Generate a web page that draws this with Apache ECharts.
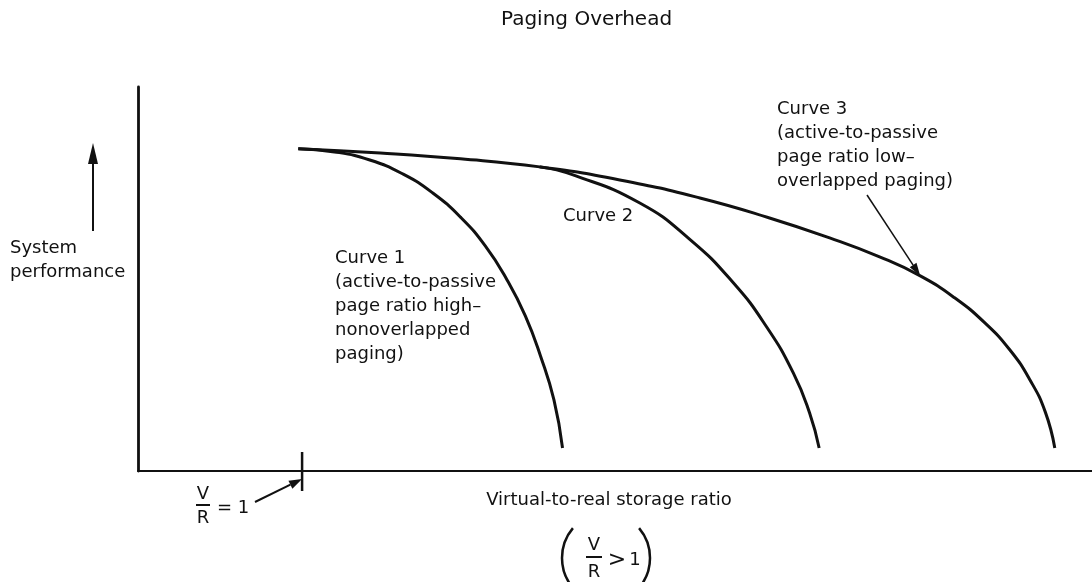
<!DOCTYPE html>
<html>
<head>
<meta charset="utf-8">
<script src="https://cdn.jsdelivr.net/npm/echarts@6/dist/echarts.min.js"></script>
<style>
  html, body { margin: 0; padding: 0; background: #fff; }
  #chart { width: 1092px; height: 582px; }
</style>
</head>
<body>
<div id="chart"></div>
<script>
// values (arbitrary units, axes 0..100, no tick labels)
var ratio1 = [16.8, 20.6, 24.3, 27.8, 30.9, 33.8, 36.4, 38.7, 40.6, 42.2, 43.6, 44.5];
var perf1  = [83.9, 83.1, 81.0, 77.3, 72.4, 66.1, 58.6, 49.7, 40.4, 29.9, 18.5, 6.0];

var ratio2 = [42.1, 45.6, 52.6, 57.9, 62.4, 65.9, 68.7, 70.4, 71.4];
var perf2  = [79.2, 77.1, 69.8, 60.2, 49.0, 37.5, 25.5, 15.1, 6.0];

var ratio3 = [16.8, 25.4, 33.8, 42.1, 50.5, 58.9, 66.2, 72.5, 77.8, 82.0, 85.6, 88.8, 91.4, 93.5, 95.1, 96.1];
var perf3  = [83.9, 82.8, 81.3, 79.2, 75.8, 71.1, 65.9, 60.7, 55.7, 50.8, 45.1, 38.5, 31.5, 23.7, 15.4, 6.0];

// V/R = 1 marker on the x axis
var vrOne = 17.2;
// point of curve 3 the label arrow points to
var curve3Pointer = 9;

var ink = '#111';
var font = '"DejaVu Sans", "Liberation Sans", sans-serif';

function zip(xs, ys) {
    var out = [];
    for (var i = 0; i < xs.length; i++) out.push([xs[i], ys[i]]);
    return out;
}

function curve(name, xs, ys) {
    return {
        name: name,
        type: 'line',
        data: zip(xs, ys),
        smooth: 0.5,
        showSymbol: false,
        silent: true,
        lineStyle: { color: ink, width: 3 }
    };
}

// arrow from (x1,y1) to (x2,y2), head at the end
function arrow(x1, y1, x2, y2, len, half, w) {
    var a = Math.atan2(y2 - y1, x2 - x1);
    var bx = x2 - len * Math.cos(a), by = y2 - len * Math.sin(a);
    return [
        { type: 'line', shape: { x1: x1, y1: y1, x2: bx, y2: by }, style: { stroke: ink, lineWidth: w } },
        { type: 'polygon', shape: { points: [[x2, y2],
            [bx + half * Math.sin(a), by - half * Math.cos(a)],
            [bx - half * Math.sin(a), by + half * Math.cos(a)]] }, style: { fill: ink } }
    ];
}

function text(str, x, y, size, align) {
    return {
        type: 'text', x: x, y: y,
        style: { text: str, fill: ink, fontSize: size || 18, fontFamily: font,
                 lineHeight: 24, align: align || 'left', verticalAlign: 'top' }
    };
}

function centered(str, x, y, size) {
    return {
        type: 'text', x: x, y: y,
        style: { text: str, fill: ink, fontSize: size || 18, fontFamily: font,
                 align: 'center', verticalAlign: 'middle' }
    };
}

var myChart = echarts.init(document.getElementById('chart'));

var option = {
    animation: false,
    backgroundColor: '#fff',
    title: {
        text: 'Paging Overhead',
        left: 501,
        top: 10,
        padding: 0,
        textStyle: { fontFamily: font, fontSize: 20, fontWeight: 'normal', color: ink }
    },
    grid: { left: 138, right: 0, top: 87, bottom: 111 },
    xAxis: {
        type: 'value', min: 0, max: 100,
        name: 'Virtual-to-real storage ratio',
        nameLocation: 'middle',
        nameGap: 20,
        nameTextStyle: { fontFamily: font, fontSize: 18, color: ink, padding: [0, 12, 0, 0] },
        axisLine: { show: true, lineStyle: { color: ink, width: 2.2 } },
        axisTick: { show: false },
        axisLabel: { show: false },
        splitLine: { show: false }
    },
    yAxis: {
        type: 'value', min: 0, max: 100,
        axisLine: { show: true, lineStyle: { color: ink, width: 2.8 } },
        axisTick: { show: false },
        axisLabel: { show: false },
        splitLine: { show: false }
    },
    series: [
        curve('Curve 1', ratio1, perf1),
        curve('Curve 2', ratio2, perf2),
        curve('Curve 3', ratio3, perf3)
    ]
};
myChart.setOption(option);

// annotations placed from the axes' own scale
var tick = myChart.convertToPixel({ gridIndex: 0 }, [vrOne, 0]);
var tip = myChart.convertToPixel({ gridIndex: 0 }, [ratio3[curve3Pointer], perf3[curve3Pointer]]);

var g = [];
// V/R = 1 tick on the axis
g.push({ type: 'line', shape: { x1: tick[0], y1: tick[1] - 19, x2: tick[0], y2: tick[1] + 20 },
         style: { stroke: ink, lineWidth: 2.5 } });
g = g.concat(arrow(255, 502, tick[0], tick[1] + 8, 13, 4.5, 2));
g.push(centered('V', 203, 494));
g.push({ type: 'line', shape: { x1: 196, y1: 505, x2: 210, y2: 505 }, style: { stroke: ink, lineWidth: 2 } });
g.push(centered('R', 203, 518));
g.push({ type: 'text', x: 217, y: 508, style: { text: '= 1', fill: ink, fontSize: 18, fontFamily: font,
         align: 'left', verticalAlign: 'middle' } });

// (V/R > 1)
g.push({ type: 'arc', shape: { cx: 608.4, cy: 558, r: 46.4, startAngle: Math.PI - 0.70, endAngle: Math.PI + 0.70 },
         style: { stroke: ink, lineWidth: 2.5, fill: null } });
g.push({ type: 'arc', shape: { cx: 603.6, cy: 558, r: 46.4, startAngle: -0.70, endAngle: 0.70 },
         style: { stroke: ink, lineWidth: 2.5, fill: null } });
g.push(centered('V', 594, 545));
g.push({ type: 'line', shape: { x1: 586, y1: 557, x2: 602, y2: 557 }, style: { stroke: ink, lineWidth: 2 } });
g.push(centered('R', 594, 572));
g.push(centered('>', 617, 560, 22));
g.push(centered('1', 635, 560));

// y axis name with up arrow
g = g.concat(arrow(93, 231, 93, 143, 21, 5, 2));
g.push(text('System\nperformance', 10, 236));

// curve labels
g.push(text('Curve 1\n(active-to-passive\npage ratio high\u2013\nnonoverlapped\npaging)', 335, 246));
g.push(text('Curve 2', 563, 204));
g.push(text('Curve 3\n(active-to-passive\npage ratio low\u2013\noverlapped paging)', 777, 97));
g = g.concat(arrow(867, 195, tip[0], tip[1], 13, 4, 1.5));

myChart.setOption({ graphic: { elements: g } });
</script>
</body>
</html>
